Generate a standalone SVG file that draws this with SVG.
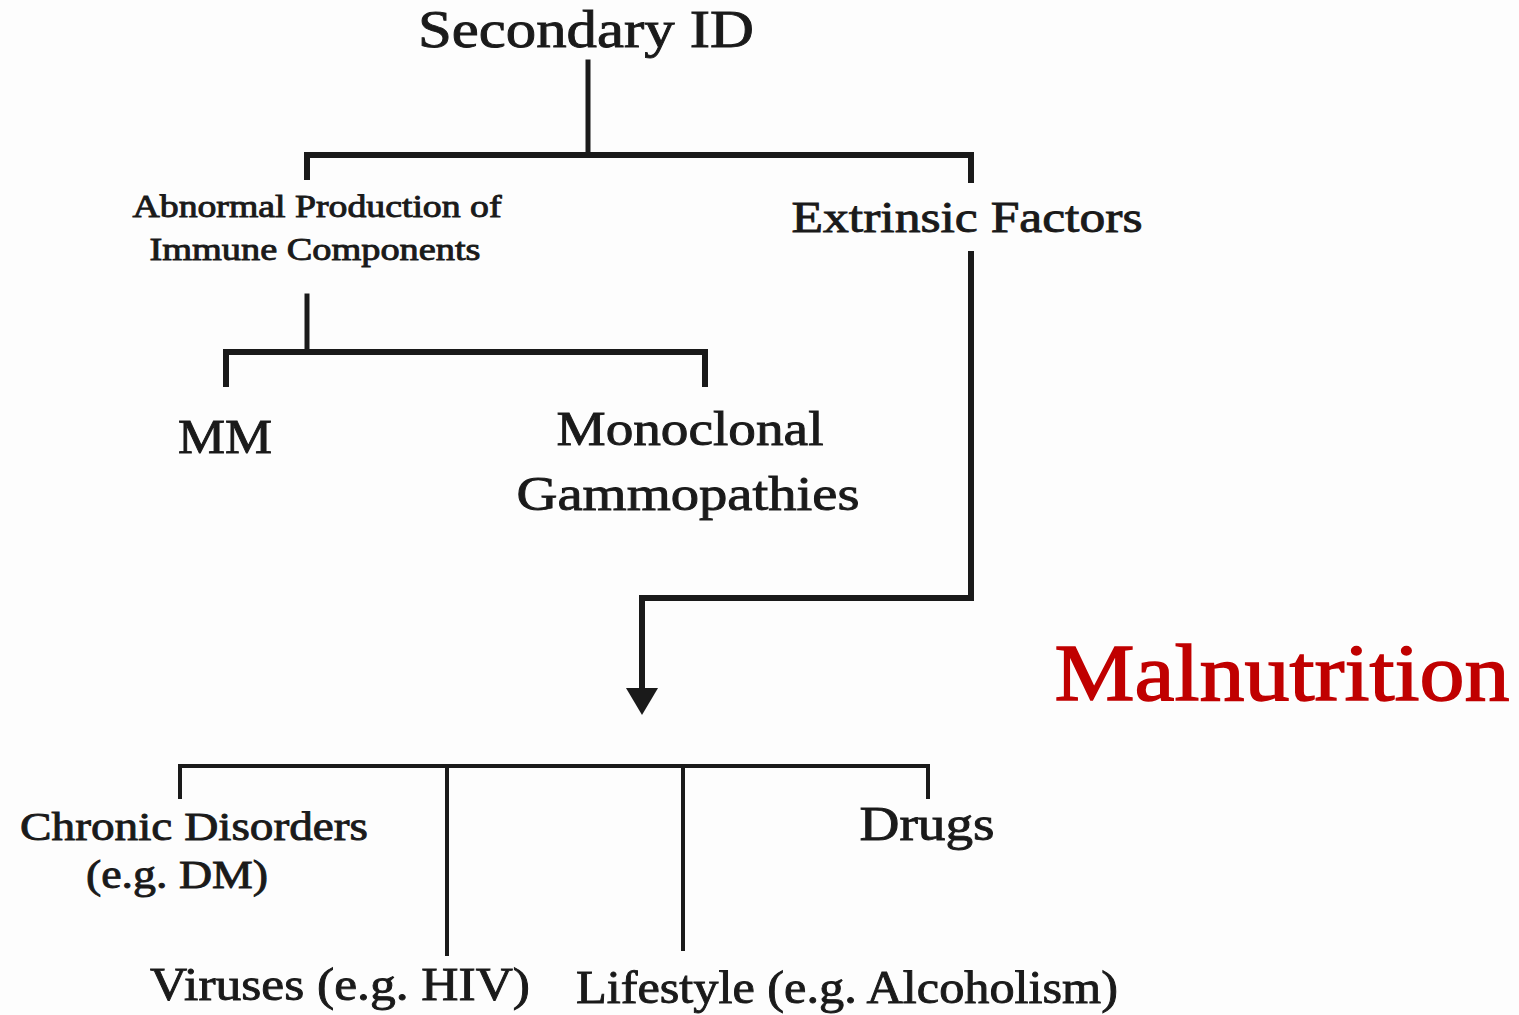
<svg xmlns="http://www.w3.org/2000/svg" width="1519" height="1015" viewBox="0 0 1519 1015">
<style>
.t{font-family:'Liberation Serif','Times New Roman',Times,serif;fill:#1a1a1a;stroke:#1a1a1a;stroke-width:0.9px;}
.c{fill:none;stroke:#1a1a1a;stroke-linecap:square;stroke-linejoin:miter;}
.red{fill:#c00000;stroke:#c00000;stroke-width:1.4px;}
</style>
<rect width="1519" height="1015" fill="#fdfdfd"/>
<g id="connectors">
<path class="c" stroke-width="5" d="M588,62 V155"/>
<path class="c" stroke-width="6" d="M307,177 V155 H971 V180"/>
<path class="c" stroke-width="5" d="M307,296 V352"/>
<path class="c" stroke-width="6" d="M226,384 V352 H705 V384"/>
<path class="c" stroke-width="6" d="M971,254 V598 H642 V690"/>
<path d="M626,688 L658,688 L642,715 Z" fill="#1a1a1a"/>
<path class="c" stroke-width="4" d="M180,797 V766 H928 V797"/>
<path class="c" stroke-width="4" d="M447,766 V954"/>
<path class="c" stroke-width="4" d="M683,766 V949"/>
</g>
<g id="node-secondary"><text class="t" x="586" y="47" font-size="52" text-anchor="middle" textLength="336" lengthAdjust="spacingAndGlyphs">Secondary ID</text></g>
<g id="node-abnormal">
<text class="t" x="317" y="217" font-size="31" text-anchor="middle" textLength="369" lengthAdjust="spacingAndGlyphs">Abnormal Production of</text>
<text class="t" x="315" y="260" font-size="31" text-anchor="middle" textLength="331" lengthAdjust="spacingAndGlyphs">Immune Components</text>
</g>
<g id="node-extrinsic"><text class="t" x="967" y="232" font-size="44" text-anchor="middle" textLength="351" lengthAdjust="spacingAndGlyphs">Extrinsic Factors</text></g>
<g id="node-mm"><text class="t" x="225" y="453" font-size="48" text-anchor="middle" textLength="94" lengthAdjust="spacingAndGlyphs">MM</text></g>
<g id="node-monoclonal">
<text class="t" x="690" y="445" font-size="48" text-anchor="middle" textLength="267" lengthAdjust="spacingAndGlyphs">Monoclonal</text>
<text class="t" x="688" y="510" font-size="48" text-anchor="middle" textLength="343" lengthAdjust="spacingAndGlyphs">Gammopathies</text>
</g>
<g id="node-malnutrition"><text class="t red" x="1282" y="700" font-size="80" text-anchor="middle" textLength="455" lengthAdjust="spacingAndGlyphs">Malnutrition</text></g>
<g id="node-chronic">
<text class="t" x="194" y="840" font-size="40" text-anchor="middle" textLength="348" lengthAdjust="spacingAndGlyphs">Chronic Disorders</text>
<text class="t" x="177" y="888" font-size="40" text-anchor="middle" textLength="182" lengthAdjust="spacingAndGlyphs">(e.g. DM)</text>
</g>
<g id="node-drugs"><text class="t" x="927" y="840" font-size="48" text-anchor="middle" textLength="135" lengthAdjust="spacingAndGlyphs">Drugs</text></g>
<g id="node-viruses"><text class="t" x="340" y="1000" font-size="46" text-anchor="middle" textLength="380" lengthAdjust="spacingAndGlyphs">Viruses (e.g. HIV)</text></g>
<g id="node-lifestyle"><text class="t" x="847" y="1003" font-size="46" text-anchor="middle" textLength="542" lengthAdjust="spacingAndGlyphs">Lifestyle (e.g. Alcoholism)</text></g>
</svg>
